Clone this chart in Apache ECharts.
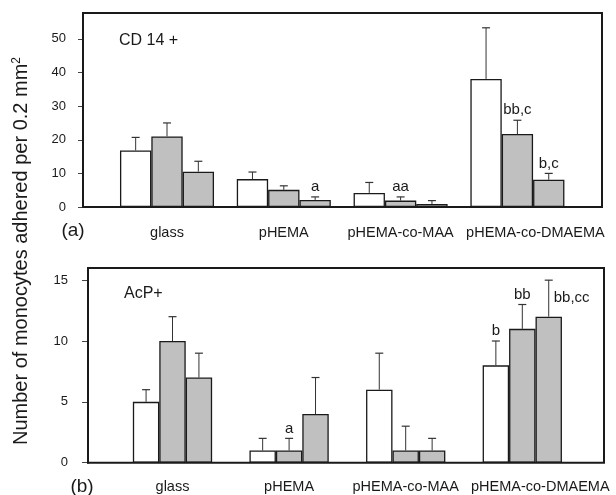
<!DOCTYPE html>
<html>
<head>
<meta charset="utf-8">
<script src="https://cdn.jsdelivr.net/npm/echarts@6/dist/echarts.min.js"></script>
<style>
html,body{margin:0;padding:0;background:#fff;}
#chart{width:616px;height:495px;}
</style>
</head>
<body>
<div id="chart"></div>
<script>
// ---------- DATA ----------
const categories = ['glass', 'pHEMA', 'pHEMA-co-MAA', 'pHEMA-co-DMAEMA'];

// Panel (a): CD 14+   (bar means and top of error bars)
const cd14Open     = [16.8, 8.3, 4.2, 38.1];
const cd14Gray1    = [21.0, 5.1, 1.9, 21.7];
const cd14Gray2    = [10.5, 2.1, 0.9, 8.1];
const cd14OpenErr  = [20.7, 10.4, 7.3, 53.3];
const cd14Gray1Err = [25.0, 6.3, 3.0, 25.8];
const cd14Gray2Err = [13.6, 3.0, 1.9, 10.0];
const cd14OpenSig  = ['', '', '', ''];
const cd14Gray1Sig = ['', '', 'aa', 'bb,c'];
const cd14Gray2Sig = ['', 'a', '', 'b,c'];
const cd14Ticks    = [0, 10, 20, 30, 40, 50];

// Panel (b): AcP+
const acpOpen     = [5, 1, 6, 8];
const acpGray1    = [10, 1, 1, 11];
const acpGray2    = [7, 4, 1, 12];
const acpOpenErr  = [6, 2, 9, 10];
const acpGray1Err = [12, 2, 3, 13];
const acpGray2Err = [9, 7, 2, 15];
const acpOpenSig  = ['', '', '', 'b'];
const acpGray1Sig = ['', 'a', '', 'bb'];
const acpGray2Sig = ['', '', '', 'bb,cc'];
const acpTicks    = [0, 5, 10, 15];

// ---------- STYLE ----------
const FONT = 'Liberation Sans, Arial, Helvetica, sans-serif';
const GRAY = '#c0c0c0';
const INK = '#1a1a1a';
const GAP_A = 0.195;
const GAP_B = 0.32;

function barSeries(data, color, xi, yi, gap) {
  return {
    type: 'bar', xAxisIndex: xi, yAxisIndex: yi, data: data,
    barGap: '0%', barCategoryGap: (gap * 100) + '%',
    itemStyle: { color: color, borderColor: INK, borderWidth: 1.3 },
    emphasis: { disabled: true }, silent: true, z: 3
  };
}

function errSeries(means, tops, sigs, slot, xi, yi, gap, sideLabel) {
  return {
    type: 'custom', xAxisIndex: xi, yAxisIndex: yi, z: 4, silent: true,
    data: means.map((m, i) => [i, m, tops[i]]),
    encode: { x: 0, y: [1, 2] },
    renderItem: function (params, api) {
      const i = api.value(0), m = api.value(1), t = api.value(2);
      const band = api.size([1, 0])[0];
      const bw = band * (1 - gap) / 3;
      const base = api.coord([i, m]);
      const x = base[0] + (slot - 1) * bw;
      const yTop = api.coord([i, t])[1];
      const children = [
        { type: 'line', shape: { x1: x, y1: base[1], x2: x, y2: yTop }, style: { stroke: '#333', lineWidth: 1 } },
        { type: 'line', shape: { x1: x - 4, y1: yTop, x2: x + 4, y2: yTop }, style: { stroke: '#333', lineWidth: 1.2 } }
      ];
      const s = sigs[params.dataIndex];
      if (s) {
        const side = sideLabel && sideLabel[params.dataIndex];
        children.push({
          type: 'text',
          style: {
            text: s, x: side ? x + 5 : x, y: side ? yTop + 18 : yTop - 10,
            align: side ? 'left' : 'center', verticalAlign: 'middle',
            font: '15px ' + FONT, fill: INK
          }
        });
      }
      return { type: 'group', children: children };
    }
  };
}

function catLabel(margin) {
  return {
    margin: margin, fontSize: 14.5, color: INK, fontFamily: FONT, interval: 0,
    formatter: function (v, i) { return i === categories.length - 1 ? '{shift|' + v + '}' : v; },
    rich: { shift: { padding: [0, 0, 0, 36], fontSize: 14.5, fontFamily: FONT, color: INK } }
  };
}

const chart = echarts.init(document.getElementById('chart'), null, { renderer: 'canvas' });

const option = {
  animation: false,
  backgroundColor: '#fff',
  textStyle: { fontFamily: FONT },
  grid: [
    { left: 108.6, right: 40.2, top: 13, bottom: 288, show: false },
    { left: 114.2, right: 35.4, top: 268, bottom: 32.3, show: false },
    { left: 83, right: 14, top: 13, bottom: 288, show: true, borderColor: INK, borderWidth: 2, backgroundColor: 'transparent', z: 5 },
    { left: 88, right: 12, top: 268, bottom: 32.3, show: true, borderColor: INK, borderWidth: 2, backgroundColor: 'transparent', z: 5 }
  ],
  xAxis: [
    { type: 'category', gridIndex: 0, data: categories,
      axisLine: { show: false }, axisTick: { show: false }, axisLabel: catLabel(18) },
    { type: 'category', gridIndex: 1, data: categories,
      axisLine: { show: false }, axisTick: { show: false }, axisLabel: catLabel(17) },
    { type: 'value', gridIndex: 2, show: false },
    { type: 'value', gridIndex: 3, show: false }
  ],
  yAxis: [
    { type: 'value', gridIndex: 0, min: 0, max: 57.7, offset: 25.6,
      axisLine: { show: true, lineStyle: { color: INK, width: 2 } },
      axisTick: { show: true, length: 5, customValues: cd14Ticks, lineStyle: { color: '#444' } },
      axisLabel: { customValues: cd14Ticks, margin: 17, fontSize: 13, color: INK, fontFamily: FONT },
      splitLine: { show: false } },
    { type: 'value', gridIndex: 1, min: 0, max: 16, offset: 26.2,
      axisLine: { show: true, lineStyle: { color: INK, width: 2 } },
      axisTick: { show: true, length: 6, customValues: acpTicks, lineStyle: { color: '#444' } },
      axisLabel: { customValues: acpTicks, margin: 20, fontSize: 13, color: INK, fontFamily: FONT },
      splitLine: { show: false } },
    { type: 'value', gridIndex: 2, show: false },
    { type: 'value', gridIndex: 3, show: false }
  ],
  series: [
    barSeries(cd14Open, '#ffffff', 0, 0, GAP_A),
    barSeries(cd14Gray1, GRAY, 0, 0, GAP_A),
    barSeries(cd14Gray2, GRAY, 0, 0, GAP_A),
    errSeries(cd14Open, cd14OpenErr, cd14OpenSig, 0, 0, 0, GAP_A),
    errSeries(cd14Gray1, cd14Gray1Err, cd14Gray1Sig, 1, 0, 0, GAP_A),
    errSeries(cd14Gray2, cd14Gray2Err, cd14Gray2Sig, 2, 0, 0, GAP_A),

    barSeries(acpOpen, '#ffffff', 1, 1, GAP_B),
    barSeries(acpGray1, GRAY, 1, 1, GAP_B),
    barSeries(acpGray2, GRAY, 1, 1, GAP_B),
    errSeries(acpOpen, acpOpenErr, acpOpenSig, 0, 1, 1, GAP_B),
    errSeries(acpGray1, acpGray1Err, acpGray1Sig, 1, 1, 1, GAP_B),
    errSeries(acpGray2, acpGray2Err, acpGray2Sig, 2, 1, 1, GAP_B, [false, false, false, true])
  ],
  graphic: [
    { type: 'text', x: 21, y: 251, rotation: Math.PI / 2,
      style: {
        text: 'Number of monocytes adhered per 0.2 mm{sup|2}',
        font: '20px ' + FONT, fill: INK, align: 'center', verticalAlign: 'middle',
        rich: { sup: { fontSize: 12, fontFamily: FONT, verticalAlign: 'top', fill: INK } }
      } },
    { type: 'text', x: 119, y: 41, style: { text: 'CD 14 +', font: '16px ' + FONT, fill: INK, verticalAlign: 'middle' } },
    { type: 'text', x: 124, y: 294, style: { text: 'AcP+', font: '16px ' + FONT, fill: INK, verticalAlign: 'middle' } },
    { type: 'text', x: 73, y: 231, style: { text: '(a)', font: '19px ' + FONT, fill: INK, align: 'center', verticalAlign: 'middle' } },
    { type: 'text', x: 82, y: 487, style: { text: '(b)', font: '19px ' + FONT, fill: INK, align: 'center', verticalAlign: 'middle' } }
  ]
};
chart.setOption(option);
</script>
</body>
</html>
